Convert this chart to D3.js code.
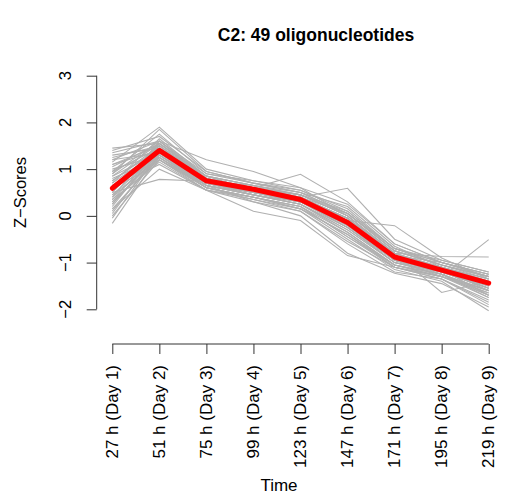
<!DOCTYPE html>
<html>
<head>
<meta charset="utf-8">
<script src="https://cdn.jsdelivr.net/npm/d3@7"></script>
<style>
  body { margin: 0; background: #fff; }
  text { font-family: "Liberation Sans", Arial, sans-serif; fill: #000; }
</style>
</head>
<body>
<div id="chart"></div>
<script>
// time points on the x axis
const timeLabels = ["27 h (Day 1)", "51 h (Day 2)", "75 h (Day 3)", "99 h (Day 4)", "123 h (Day 5)",
                    "147 h (Day 6)", "171 h (Day 7)", "195 h (Day 8)", "219 h (Day 9)"];
const yTicks = [-2, -1, 0, 1, 2, 3];

// z-scores of the 49 oligonucleotides in cluster C2
const oligos = [
    [1.45, 1.55, 0.85, 0.55, 0.40, -0.10, -0.80, -1.10, -1.40],
    [1.40, 1.70, 0.95, 0.70, 0.50, 0.05, -0.75, -1.05, -1.35],
    [1.35, 1.60, 0.80, 0.60, 0.45, 0.00, -0.85, -1.20, -1.50],
    [1.30, 1.45, 0.70, 0.50, 0.30, -0.20, -0.95, -1.15, -1.55],
    [1.25, 1.50, 0.75, 0.65, 0.35, -0.05, -0.90, -1.25, -1.60],
    [1.20, 1.35, 0.65, 0.45, 0.25, -0.30, -1.00, -1.20, -1.45],
    [1.15, 1.90, 1.00, 0.75, 0.55, 0.10, -0.70, -1.05, -1.30],
    [1.10, 1.40, 0.70, 0.55, 0.40, -0.15, -0.90, -1.10, -1.50],
    [1.05, 1.55, 0.80, 0.60, 0.45, 0.00, -0.80, -1.15, -1.70],
    [1.00, 1.30, 0.60, 0.40, 0.20, -0.35, -1.05, -1.30, -1.65],
    [0.95, 1.45, 0.75, 0.55, 0.30, -0.10, -0.85, -1.00, -1.25],
    [0.90, 1.60, 0.85, 0.65, 0.50, 0.20, -0.65, -1.10, -1.40],
    [0.85, 1.35, 0.70, 0.50, 0.35, -0.20, -0.90, -1.20, -1.55],
    [0.80, 1.25, 0.65, 0.45, 0.25, -0.25, -1.00, -1.25, -1.75],
    [0.75, 1.50, 0.80, 0.60, 0.40, 0.05, -0.75, -1.05, -1.30],
    [0.70, 1.40, 0.70, 0.50, 0.30, -0.15, -0.95, -1.15, -1.45],
    [0.65, 1.20, 0.60, 0.40, 0.15, -0.40, -1.10, -1.30, -1.60],
    [0.60, 1.45, 0.75, 0.60, 0.40, -0.05, -0.85, -1.10, -1.35],
    [0.55, 1.30, 0.65, 0.50, 0.30, -0.20, -0.95, -1.20, -1.50],
    [0.50, 0.78, 0.74, 0.55, 0.35, -0.10, -0.90, -1.15, -1.40],
    [0.50, 1.55, 0.85, 0.65, 0.45, 0.10, -0.70, -1.00, -1.25],
    [0.45, 1.35, 0.70, 0.45, 0.25, -0.30, -1.00, -1.25, -1.65],
    [0.40, 1.25, 0.60, 0.40, 0.20, -0.45, -1.10, -1.35, -1.80],
    [0.40, 1.60, 1.20, 0.95, 0.60, 0.00, -0.80, -1.10, -1.45],
    [0.35, 1.40, 0.75, 0.60, 0.89, 0.30, -0.60, -1.00, -1.30],
    [0.30, 1.30, 0.70, 0.50, 0.40, 0.59, -0.50, -0.95, -1.20],
    [0.30, 1.20, 0.65, 0.45, 0.30, -0.10, -0.21, -0.90, -1.35],
    [0.25, 1.35, 0.70, 0.50, 0.35, -0.20, -0.95, -1.30, -0.51],
    [0.20, 1.45, 0.80, 0.60, 0.40, -0.05, -0.80, -1.64, -1.40],
    [0.15, 1.25, 0.60, 0.40, 0.15, -0.50, -1.15, -1.40, -2.03],
    [0.10, 1.30, 0.65, 0.45, 0.25, -0.35, -1.05, -1.25, -1.60],
    [0.05, 1.40, 0.75, 0.55, 0.35, -0.15, -0.90, -1.10, -1.50],
    [0.00, 1.20, 0.55, 0.35, 0.10, -0.60, -1.20, -1.35, -1.85],
    [-0.05, 1.35, 0.70, 0.50, 0.30, -0.25, -1.00, -1.20, -1.55],
    [-0.16, 1.30, 0.65, 0.30, 0.00, -0.80, -1.23, -1.45, -1.95],
    [0.95, 1.75, 0.90, 0.70, 0.55, 0.15, -0.70, -0.95, -1.20],
    [1.10, 1.50, 0.75, 0.60, 0.40, -0.10, -0.85, -1.10, -1.35],
    [0.70, 1.65, 0.85, 0.65, 0.45, 0.05, -0.75, -1.05, -1.30],
    [0.60, 1.10, 0.55, 0.10, -0.10, -0.85, -1.10, -1.30, -1.70],
    [0.85, 1.55, 0.80, 0.60, 0.45, 0.00, -0.80, -0.87, -0.88],
    [0.45, 1.20, 0.60, 0.35, 0.15, -0.40, -1.05, -1.30, -1.75],
    [0.75, 1.45, 0.75, 0.55, 0.35, -0.05, -0.90, -1.15, -1.45],
    [0.55, 1.50, 0.80, 0.60, 0.40, -0.05, -0.85, -1.10, -1.40],
    [1.20, 1.60, 0.90, 0.75, 0.60, 0.25, -0.60, -1.00, -1.25],
    [0.35, 1.15, 0.55, 0.40, 0.20, -0.45, -1.05, -1.25, -1.70],
    [0.65, 1.35, 0.70, 0.55, 0.30, -0.20, -0.95, -1.20, -1.55],
    [0.25, 1.40, 0.70, 0.50, 0.30, -0.25, -0.95, -1.15, -1.60],
    [0.90, 1.85, 0.95, 0.70, 0.50, 0.05, -0.70, -1.00, -1.30],
    [0.15, 1.00, 0.55, 0.30, 0.10, -0.55, -1.10, -1.35, -1.90]
];

// cluster centre (red line)
const centre = [0.59, 1.40, 0.75, 0.57, 0.35, -0.14, -0.88, -1.16, -1.44];

const width = 508, height = 497;

const x = d3.scaleLinear().domain([1, 9]).range([112.3, 488.7]);
const y = d3.scaleLinear().domain([-2, 3]).range([309.3, 75.7]);

const svg = d3.select("#chart").append("svg")
    .attr("width", width)
    .attr("height", height);

const line = d3.line()
    .x(function(d, i) { return x(i + 1); })
    .y(function(d) { return y(d); });

svg.append("g")
    .selectAll("path")
    .data(oligos)
    .enter().append("path")
        .attr("d", line)
        .attr("fill", "none")
        .attr("stroke", "#b0b0b0")
        .attr("stroke-width", 1.1);

svg.append("path")
    .datum(centre)
    .attr("d", line)
    .attr("fill", "none")
    .attr("stroke", "#ff0000")
    .attr("stroke-width", 5)
    .attr("stroke-linejoin", "round")
    .attr("stroke-linecap", "round");

// y axis, R style: vertical labels
const yAxis = svg.append("g")
    .attr("transform", "translate(96.7,0)")
    .call(d3.axisLeft(y).tickValues(yTicks).tickSize(10).tickFormat(""));
yAxis.select(".domain").attr("d", "M0," + y(-2) + "V" + y(3)).attr("stroke", "#333");
yAxis.selectAll(".tick line").attr("stroke", "#333");

svg.append("g")
    .selectAll("text")
    .data(yTicks)
    .enter().append("text")
        .attr("transform", function(d) { return "translate(65," + y(d) + ") rotate(-90)"; })
        .attr("text-anchor", "middle")
        .attr("dominant-baseline", "central")
        .style("font-size", "16.5px")
        .text(function(d) { return d < 0 ? "\u2212" + Math.abs(d) : d; });

// x axis
const xAxis = svg.append("g")
    .attr("transform", "translate(0,344)")
    .call(d3.axisBottom(x).tickValues(d3.range(1, 10)).tickSize(10).tickFormat(""));
xAxis.select(".domain").attr("d", "M" + x(1) + ",0H" + x(9)).attr("stroke", "#333");
xAxis.selectAll(".tick line").attr("stroke", "#333");

svg.append("g")
    .selectAll("text")
    .data(timeLabels)
    .enter().append("text")
        .attr("transform", function(d, i) { return "translate(" + x(i + 1) + ",365) rotate(-90)"; })
        .attr("text-anchor", "end")
        .attr("dominant-baseline", "central")
        .style("font-size", "17px")
        .text(function(d) { return d; });

svg.append("text")
    .attr("x", 316)
    .attr("y", 41)
    .attr("text-anchor", "middle")
    .style("font-size", "17.5px")
    .style("font-weight", "bold")
    .text("C2: 49 oligonucleotides");

svg.append("text")
    .attr("x", 279)
    .attr("y", 491)
    .attr("text-anchor", "middle")
    .style("font-size", "17px")
    .text("Time");

svg.append("text")
    .attr("transform", "translate(20," + y(0.5) + ") rotate(-90)")
    .attr("text-anchor", "middle")
    .attr("dominant-baseline", "central")
    .style("font-size", "16.5px")
    .text("Z\u2212Scores");
</script>
</body>
</html>
